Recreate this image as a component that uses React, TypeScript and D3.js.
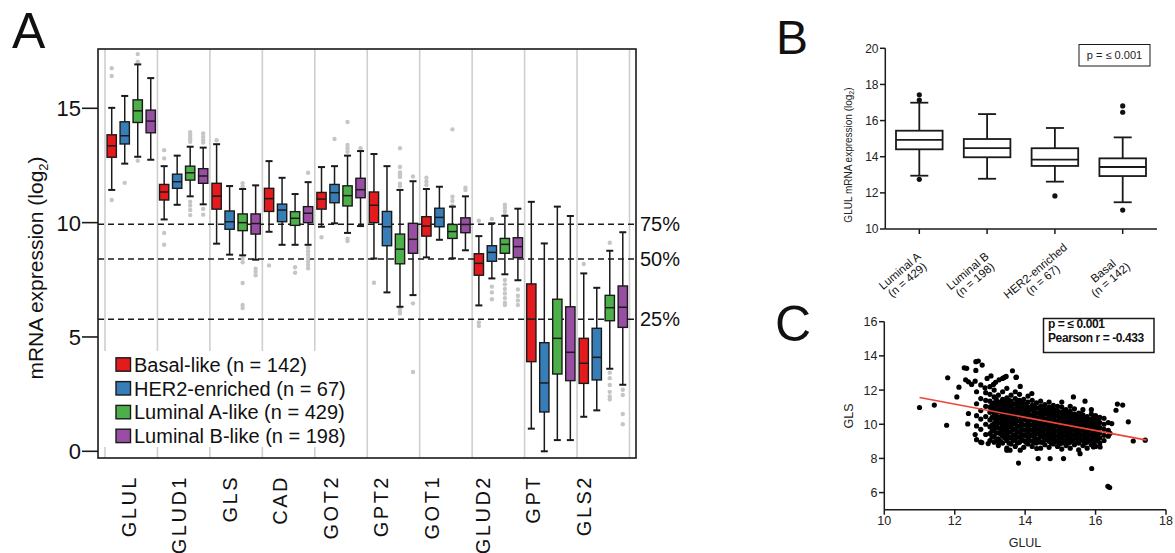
import React from "react";
import * as d3 from "d3";

// ---------- Panel A data ----------
const genes = ["GLUL", "GLUD1", "GLS", "CAD", "GOT2", "GPT2", "GOT1", "GLUD2", "GPT", "GLS2"];
const subtypes = ["Basal-like", "HER2-enriched", "Luminal A-like", "Luminal B-like"];
const subtypeN = [142, 67, 429, 198];
const subtypeColors = ["#E41A1C", "#377EB8", "#4DAF4A", "#984EA3"];

// order per gene: Basal, HER2, LumA, LumB
const whiskHi = [
  [15.02, 15.54, 16.92, 16.32],
  [12.47, 12.93, 13.32, 13.28],
  [13.43, 11.6, 11.47, 11.63],
  [12.69, 11.96, 11.25, 11.77],
  [12.43, 12.47, 12.93, 13.13],
  [13.0, 12.47, 11.43, 11.81],
  [11.47, 11.57, 10.7, 11.15],
  [9.41, 9.97, 10.3, 10.61],
  [10.91, 9.09, 10.7, 10.29],
  [7.78, 7.15, 8.77, 9.58],
];
const upperQ = [
  [13.84, 14.41, 15.37, 14.92],
  [11.67, 12.12, 12.47, 12.36],
  [11.72, 10.51, 10.38, 10.38],
  [11.5, 10.81, 10.48, 10.7],
  [11.32, 11.67, 11.61, 11.94],
  [11.34, 10.49, 9.5, 9.97],
  [10.26, 10.63, 9.92, 10.21],
  [8.64, 8.99, 9.31, 9.34],
  [7.32, 4.75, 6.65, 6.32],
  [4.94, 5.38, 6.82, 7.23],
];
const medians = [
  [13.36, 13.8, 14.89, 14.44],
  [11.34, 11.79, 12.18, 12.04],
  [11.16, 10.04, 10.0, 9.96],
  [11.05, 10.55, 10.19, 10.41],
  [11.03, 11.31, 11.18, 11.44],
  [10.76, 9.82, 8.84, 9.27],
  [9.85, 10.23, 9.61, 9.92],
  [8.22, 8.7, 9.05, 8.95],
  [5.78, 2.99, 4.94, 4.33],
  [3.85, 4.11, 6.28, 6.3],
];
const lowerQ = [
  [12.86, 13.44, 14.38, 13.93],
  [10.99, 11.5, 11.86, 11.72],
  [10.59, 9.71, 9.65, 9.5],
  [10.49, 10.04, 9.88, 10.0],
  [10.59, 10.87, 10.73, 11.09],
  [10.0, 8.99, 8.2, 8.66],
  [9.41, 9.82, 9.31, 9.56],
  [7.7, 8.31, 8.66, 8.47],
  [3.92, 1.72, 3.38, 3.09],
  [2.97, 3.12, 5.71, 5.42],
];
const whiskLo = [
  [11.43, 12.58, 12.88, 12.75],
  [10.14, 10.78, 11.15, 10.8],
  [9.08, 8.6, 8.57, 8.38],
  [9.6, 9.03, 9.03, 9.03],
  [9.82, 9.97, 9.55, 9.85],
  [8.43, 6.95, 6.32, 6.83],
  [8.48, 9.25, 8.44, 8.79],
  [6.38, 7.56, 7.74, 7.48],
  [0.99, 0.0, 0.49, 0.49],
  [1.51, 1.79, 3.61, 2.91],
];
const outliersA = [
  [[16.75, 16.41, 10.99], [11.74], [17.37, 17.04, 12.71], []],
  [[13.17, 12.81, 9.55, 9.03], [], [13.96, 13.85, 13.75, 13.65, 13.54, 10.91, 10.75, 10.55, 10.33], [13.9, 13.75, 13.6, 13.5, 10.6, 10.35]],
  [[13.6], [], [11.72, 11.58, 8.45, 8.27, 7.36, 6.4, 6.27], [7.98, 7.85, 7.7]],
  [[8.13], [], [8.05, 7.81], [12.18, 8.9, 8.75, 8.6, 8.45, 8.3, 8.15, 8.0]],
  [[9.36], [13.66], [14.4, 13.4, 13.25, 13.1, 9.3, 9.2], [13.25]],
  [[7.37], [], [13.25, 12.43, 12.2, 12.1, 12.0, 11.7, 11.6, 6.24, 6.1, 6.03], [12.02, 6.47, 3.47]],
  [[11.96, 11.8, 11.65], [], [14.08, 11.13, 10.95, 10.74], [11.53, 11.43]],
  [[10.08, 5.64, 5.48], [10.16, 7.2, 6.95, 6.65], [10.78, 10.65, 10.5, 10.33, 7.49, 7.3, 7.1, 6.9, 6.7, 6.5, 6.4], [7.08, 6.8, 6.6, 6.4]],
  [[], [], [], []],
  [[8.19], [], [9.12, 3.44, 3.2, 2.9, 2.6, 2.4, 2.27], [2.69, 2.46, 1.63, 1.18]],
];
const aTicks = [0, 5, 10, 15];
const refLabels = ["75%", "50%", "25%"];
const refValues = [9.93, 8.41, 5.78];

// ---------- Panel B data ----------
const bCats = ["Luminal A", "Luminal B", "HER2-enriched", "Basal"];
const bN = [429, 198, 67, 142];
const bHi = [16.99, 16.36, 15.59, 15.07];
const bQ3 = [15.44, 14.98, 14.47, 13.91];
const bMed = [14.93, 14.48, 13.84, 13.43];
const bQ1 = [14.41, 13.97, 13.49, 12.93];
const bLo = [12.95, 12.78, 12.62, 11.48];
const bOut = [[17.43, 17.14, 12.75], [], [11.83], [16.81, 16.46, 11.05]];
const bTicks = [10, 12, 14, 16, 18, 20];

// ---------- Panel C data ----------
const blobCols: [number, number[]][] = [
  [12.62, [9.1, 9.9, 10.5, 11.2, 11.9]],
  [12.74, [8.95, 9.7, 10.3, 10.8, 11.5, 12.3]],
  [12.88, [9.4, 10.0, 10.45, 11.05, 11.4, 11.85]],
  [13.0, [9.05, 9.45, 9.85, 10.25, 10.7, 11.0, 11.35, 11.75, 12.2]],
  [13.12, [8.95, 9.3, 9.7, 10.05, 10.35, 10.65, 10.95, 11.25, 11.6, 12.0]],
  [13.24, [8.75, 9.15, 9.5, 9.8, 10.1, 10.4, 10.75, 11.05, 11.3, 11.7]],
  [13.36, [8.9, 9.3, 9.6, 9.95, 10.25, 10.55, 10.85, 11.15, 11.45, 11.9]],
  [13.48, [8.6, 9.05, 9.4, 9.7, 10.0, 10.3, 10.6, 10.95, 11.2, 11.55, 12.1]],
  [13.6, [8.85, 9.2, 9.55, 9.85, 10.15, 10.45, 10.75, 11.05, 11.35, 11.7]],
  [13.72, [8.7, 9.1, 9.4, 9.7, 10.05, 10.35, 10.65, 10.9, 11.2, 11.5, 11.9]],
  [13.84, [8.95, 9.25, 9.55, 9.9, 10.2, 10.5, 10.8, 11.1, 11.4, 11.75]],
  [13.96, [8.65, 9.05, 9.35, 9.65, 9.95, 10.3, 10.6, 10.85, 11.15, 11.45]],
  [14.08, [8.85, 9.2, 9.5, 9.8, 10.1, 10.4, 10.7, 11.0, 11.3, 11.65]],
  [14.2, [8.7, 9.0, 9.35, 9.65, 9.95, 10.25, 10.55, 10.85, 11.1, 11.4]],
  [14.32, [8.9, 9.15, 9.45, 9.75, 10.05, 10.35, 10.65, 10.95, 11.25]],
  [14.44, [8.6, 8.95, 9.3, 9.6, 9.9, 10.2, 10.5, 10.75, 11.05, 11.35]],
  [14.56, [8.8, 9.1, 9.4, 9.7, 10.0, 10.3, 10.6, 10.9, 11.15]],
  [14.68, [8.65, 9.0, 9.25, 9.55, 9.85, 10.15, 10.45, 10.7, 11.0, 11.3]],
  [14.8, [8.85, 9.15, 9.45, 9.75, 10.05, 10.35, 10.6, 10.9, 11.1]],
  [14.92, [8.7, 9.0, 9.3, 9.6, 9.9, 10.2, 10.5, 10.8, 11.05]],
  [15.04, [8.55, 8.9, 9.2, 9.5, 9.8, 10.1, 10.4, 10.7, 11.0, 11.3]],
  [15.16, [8.75, 9.05, 9.35, 9.65, 9.95, 10.25, 10.55, 10.85]],
  [15.28, [8.6, 8.95, 9.25, 9.55, 9.85, 10.15, 10.45, 10.75, 11.05]],
  [15.4, [8.8, 9.1, 9.4, 9.7, 10.0, 10.3, 10.6, 10.9]],
  [15.52, [8.5, 8.9, 9.2, 9.5, 9.8, 10.1, 10.4, 10.65]],
  [15.64, [8.75, 9.05, 9.35, 9.65, 9.95, 10.25, 10.55, 10.85]],
  [15.76, [8.6, 8.95, 9.25, 9.55, 9.85, 10.15, 10.45]],
  [15.88, [8.8, 9.1, 9.4, 9.7, 10.0, 10.3, 10.6, 10.85]],
  [16.0, [8.7, 9.0, 9.3, 9.6, 9.9, 10.2, 10.5]],
  [16.12, [8.9, 9.2, 9.5, 9.8, 10.1, 10.4]],
  [16.24, [9.05, 9.35, 9.7, 10.0, 10.35]],
  [16.36, [9.3, 9.65, 10.1]],
];
// denser core, read between the columns above
const blobCore: [number, number[]][] = [
  [13.06, [9.25, 9.6, 9.95, 10.4, 10.8, 11.15]],
  [13.18, [9.1, 9.5, 9.85, 10.2, 10.5, 10.8, 11.1, 11.45]],
  [13.3, [9.0, 9.45, 9.75, 10.1, 10.4, 10.7, 11.0, 11.3]],
  [13.42, [9.2, 9.55, 9.85, 10.15, 10.45, 10.8, 11.05, 11.35]],
  [13.54, [8.9, 9.25, 9.55, 9.9, 10.2, 10.5, 10.8, 11.1, 11.4]],
  [13.66, [9.05, 9.35, 9.7, 10.0, 10.3, 10.6, 10.9, 11.2]],
  [13.78, [8.9, 9.25, 9.55, 9.85, 10.2, 10.5, 10.8, 11.05, 11.35]],
  [13.9, [9.1, 9.4, 9.7, 10.05, 10.35, 10.65, 10.95, 11.25]],
  [14.02, [8.95, 9.35, 9.65, 9.95, 10.25, 10.55, 10.85, 11.15]],
  [14.14, [9.05, 9.35, 9.65, 9.95, 10.25, 10.55, 10.9]],
  [14.26, [8.95, 9.25, 9.55, 9.85, 10.15, 10.45, 10.75, 11.05]],
  [14.38, [9.1, 9.45, 9.75, 10.05, 10.35, 10.65, 10.95]],
  [14.5, [8.95, 9.25, 9.55, 9.85, 10.15, 10.45, 10.75, 11.0]],
  [14.62, [9.1, 9.4, 9.7, 10.0, 10.3, 10.6, 10.85]],
  [14.74, [8.9, 9.2, 9.5, 9.8, 10.1, 10.4, 10.7, 10.95]],
  [14.86, [9.0, 9.3, 9.6, 9.9, 10.2, 10.5, 10.8]],
  [14.98, [8.85, 9.15, 9.45, 9.75, 10.05, 10.35, 10.65]],
  [15.1, [9.0, 9.3, 9.6, 9.9, 10.2, 10.5, 10.75]],
  [15.22, [8.9, 9.2, 9.5, 9.8, 10.1, 10.4, 10.65]],
  [15.34, [9.05, 9.35, 9.65, 9.95, 10.25, 10.55]],
  [15.46, [8.95, 9.25, 9.55, 9.85, 10.15, 10.45]],
  [15.58, [9.1, 9.4, 9.7, 10.0, 10.3, 10.6]],
  [15.7, [8.9, 9.2, 9.5, 9.8, 10.1, 10.35]],
  [15.82, [9.05, 9.35, 9.65, 9.95, 10.25]],
  [15.94, [8.95, 9.25, 9.55, 9.85, 10.15, 10.4]],
  [16.06, [9.1, 9.45, 9.75, 10.05, 10.3]],
];
const cExtra: [number, number][] = [
  [11.0, 10.98], [11.42, 11.12], [11.8, 12.72], [11.77, 9.94], [12.06, 11.6], [12.12, 12.17],
  [12.27, 13.3], [12.34, 13.27], [12.6, 13.66], [12.67, 13.7], [12.78, 13.46], [12.6, 13.15],
  [12.31, 12.6], [12.39, 12.48], [12.48, 12.33], [12.58, 12.52], [12.86, 12.13], [12.92, 12.68],
  [13.03, 12.83], [13.16, 12.45], [13.36, 12.68], [13.46, 12.8], [13.64, 13.13], [13.75, 12.76],
  [13.86, 12.21], [13.1, 12.33], [13.26, 12.6], [13.41, 12.74], [13.74, 12.74], [12.39, 10.63],
  [12.37, 10.02], [12.58, 9.4], [12.77, 8.93], [12.95, 8.87], [13.24, 8.97], [13.48, 8.48],
  [13.57, 8.48], [13.86, 8.48], [13.81, 7.73], [14.33, 8.58], [14.37, 7.99], [14.71, 7.99],
  [15.09, 7.99], [15.56, 8.28], [15.89, 7.41], [16.35, 6.37], [16.4, 6.3], [14.19, 11.8],
  [15.37, 11.6], [15.7, 11.35], [16.62, 11.18], [16.77, 11.12], [16.58, 10.82], [16.93, 10.14],
  [17.07, 9.02], [17.41, 9.07], [16.41, 9.46], [16.46, 10.04], [16.13, 8.67], [15.94, 8.67],
];
const regX = [11.0, 17.45];
const regY = [11.57, 9.07];
const cXTicks = [10, 12, 14, 16, 18];
const cYTicks = [6, 8, 10, 12, 14, 16];

const FONT = "'Liberation Sans', Arial, Helvetica, sans-serif";
const INK = "#1a1a1a";

function PanelA() {
  const y = d3.scaleLinear().domain([0, 15]).range([451.3, 108.3]);
  const xg = d3.scaleBand<string>().domain(genes).range([105, 629.5]).paddingInner(0).paddingOuter(0);
  const xs = d3.scaleBand<string>().domain(subtypes).range([0, xg.bandwidth()]).paddingInner(0.285).paddingOuter(0.158);
  const xl = d3.scalePoint<string>().domain(genes).range([128.5, 583.5]);
  const left = 98, top = 49, right = 636, bottom = 458;
  const bw = xs.bandwidth();
  const seps = genes.map((g) => xg(g) as number).concat([629.5]);
  return (
    <g>
      <text x={12} y={48} fontSize={50} fill="#111">A</text>
      {seps.map((sx, i) => (
        <line key={i} x1={sx} x2={sx} y1={top} y2={bottom} stroke="#cfcfcf" strokeWidth={1.6} />
      ))}
      {refValues.map((v, i) => (
        <g key={i}>
          <line x1={left} x2={right} y1={y(v)} y2={y(v)} stroke={INK} strokeWidth={1.5} strokeDasharray="6,4" />
          <text x={640} y={y(v)} dy="0.36em" fontSize={20} fill="#111">{refLabels[i]}</text>
        </g>
      ))}
      {genes.map((g, gi) => (
        <g key={g}>
          {subtypes.map((s, si) => {
            const cx = (xg(g) as number) + (xs(s) as number) + bw / 2;
            return (
              <g key={s}>
                {outliersA[gi][si].map((o, oi) => (
                  <circle key={oi} cx={cx} cy={y(o)} r={2.2} fill="#c6c6c6" />
                ))}
                <line x1={cx} x2={cx} y1={y(whiskHi[gi][si])} y2={y(upperQ[gi][si])} stroke={INK} strokeWidth={1.5} />
                <line x1={cx} x2={cx} y1={y(lowerQ[gi][si])} y2={y(whiskLo[gi][si])} stroke={INK} strokeWidth={1.5} />
                <line x1={cx - 3.5} x2={cx + 3.5} y1={y(whiskHi[gi][si])} y2={y(whiskHi[gi][si])} stroke={INK} strokeWidth={2} />
                <line x1={cx - 3.5} x2={cx + 3.5} y1={y(whiskLo[gi][si])} y2={y(whiskLo[gi][si])} stroke={INK} strokeWidth={2} />
                <rect x={cx - bw / 2} y={y(upperQ[gi][si])} width={bw} height={y(lowerQ[gi][si]) - y(upperQ[gi][si])}
                  fill={subtypeColors[si]} stroke={INK} strokeWidth={1.4} />
                <line x1={cx - bw / 2} x2={cx + bw / 2} y1={y(medians[gi][si])} y2={y(medians[gi][si])} stroke={INK} strokeWidth={1.5} />
              </g>
            );
          })}
        </g>
      ))}
      {/* legend */}
      <rect x={101} y={351} width={255} height={96} fill="#fff" />
      {subtypes.map((s, i) => (
        <g key={s} transform={`translate(116, ${364.5 + i * 23.8})`}>
          <rect x={0} y={-6.7} width={14.5} height={13.4} fill={subtypeColors[i]} stroke={INK} strokeWidth={1.4} />
          <text x={18} y={0} dy="0.36em" fontSize={20} fill="#111">{`${s} (n = ${subtypeN[i]})`}</text>
        </g>
      ))}
      <rect x={left} y={top} width={right - left} height={bottom - top} fill="none" stroke={INK} strokeWidth={1.6} />
      {aTicks.map((t) => (
        <g key={t}>
          <line x1={82} x2={left} y1={y(t)} y2={y(t)} stroke={INK} strokeWidth={1.6} />
          <text x={81} y={y(t)} dy="0.36em" textAnchor="end" fontSize={22} fill="#111">{t}</text>
        </g>
      ))}
      <text transform="translate(35, 268) rotate(-90)" textAnchor="middle" dy="0.36em" fontSize={21} fill="#111">
        mRNA expression (log<tspan fontSize={13} dy={5}>2</tspan><tspan dy={-5}>)</tspan>
      </text>
      {genes.map((g) => (
        <text key={g} transform={`translate(${xl(g)}, 475) rotate(-90)`} textAnchor="end" dy="0.36em"
          fontSize={20} letterSpacing={2.5} fill="#111">{g}</text>
      ))}
    </g>
  );
}

function PanelB() {
  const y = d3.scaleLinear().domain([10, 20]).range([229, 48.3]);
  const x = d3.scalePoint<string>().domain(bCats).range([919.3, 1122.7]);
  const axX = 885.3;
  const hw = 23.3, cw = 9;
  return (
    <g>
      <text x={776} y={54} fontSize={48} fill="#111">B</text>
      <line x1={axX} x2={axX} y1={y(20)} y2={y(10)} stroke={INK} strokeWidth={1.5} />
      <line x1={axX} x2={1157} y1={y(10)} y2={y(10)} stroke={INK} strokeWidth={1.5} />
      {bTicks.map((t) => (
        <g key={t}>
          <line x1={880} x2={axX} y1={y(t)} y2={y(t)} stroke={INK} strokeWidth={1.5} />
          <text x={878.5} y={y(t)} dy="0.36em" textAnchor="end" fontSize={12} fill="#222">{t}</text>
        </g>
      ))}
      {bCats.map((c, i) => {
        const cx = x(c) as number;
        return (
          <g key={c}>
            <line x1={cx} x2={cx} y1={y(10)} y2={y(10) + 5} stroke={INK} strokeWidth={1.5} />
            <line x1={cx} x2={cx} y1={y(bHi[i])} y2={y(bQ3[i])} stroke={INK} strokeWidth={1.8} />
            <line x1={cx} x2={cx} y1={y(bQ1[i])} y2={y(bLo[i])} stroke={INK} strokeWidth={1.8} />
            <line x1={cx - cw} x2={cx + cw} y1={y(bHi[i])} y2={y(bHi[i])} stroke={INK} strokeWidth={1.8} />
            <line x1={cx - cw} x2={cx + cw} y1={y(bLo[i])} y2={y(bLo[i])} stroke={INK} strokeWidth={1.8} />
            <rect x={cx - hw} y={y(bQ3[i])} width={hw * 2} height={y(bQ1[i]) - y(bQ3[i])} fill="#fff" stroke={INK} strokeWidth={1.8} />
            <line x1={cx - hw} x2={cx + hw} y1={y(bMed[i])} y2={y(bMed[i])} stroke={INK} strokeWidth={1.8} />
            {bOut[i].map((o, oi) => (
              <circle key={oi} cx={cx} cy={y(o)} r={2.6} fill="#111" />
            ))}
            <g transform={`translate(${cx - 17}, 274) rotate(-40)`} fontSize={11.5} fill="#111" textAnchor="middle">
              <text x={0} y={0}>{c}</text>
              <text x={0} y={11.5}>{`(n = ${bN[i]})`}</text>
            </g>
          </g>
        );
      })}
      <rect x={1079} y={44.5} width={71} height={21.5} fill="#fff" stroke={INK} strokeWidth={1} />
      <text x={1114.5} y={59} textAnchor="middle" fontSize={11} fill="#222">p = ≤ 0.001</text>
      <text transform="translate(848, 155) rotate(-90)" textAnchor="middle" dy="0.36em" fontSize={10} fill="#222">
        GLUL mRNA expression (log<tspan fontSize={7} dy={2}>2</tspan><tspan dy={-2}>)</tspan>
      </text>
    </g>
  );
}

function PanelC() {
  const x = d3.scaleLinear().domain([10, 18]).range([884.3, 1166]);
  const y = d3.scaleLinear().domain([5, 16]).range([509.7, 321.7]);
  const pts: [number, number][] = [];
  blobCols.forEach(([gx, ys]) => ys.forEach((v) => pts.push([gx, v])));
  blobCore.forEach(([gx, ys]) => ys.forEach((v) => pts.push([gx, v])));
  cExtra.forEach((p) => pts.push(p));
  const line = d3.line<number>().x((d) => x(regX[d])).y((d) => y(regY[d]));
  return (
    <g>
      <text x={775} y={341} fontSize={50} fill="#111">C</text>
      <line x1={x(10)} x2={x(10)} y1={y(16)} y2={y(5)} stroke={INK} strokeWidth={1.5} />
      <line x1={x(10)} x2={x(18)} y1={y(5)} y2={y(5)} stroke={INK} strokeWidth={1.5} />
      {cYTicks.map((t) => (
        <g key={t}>
          <line x1={879} x2={x(10)} y1={y(t)} y2={y(t)} stroke={INK} strokeWidth={1.5} />
          <text x={877.5} y={y(t)} dy="0.36em" textAnchor="end" fontSize={12.5} fill="#222">{t}</text>
        </g>
      ))}
      {cXTicks.map((t) => (
        <g key={t}>
          <line x1={x(t)} x2={x(t)} y1={y(5)} y2={y(5) + 5} stroke={INK} strokeWidth={1.5} />
          <text x={x(t)} y={525} textAnchor="middle" fontSize={12.5} fill="#222">{t}</text>
        </g>
      ))}
      {pts.map((p, i) => (
        <circle key={i} cx={x(p[0])} cy={y(p[1])} r={2.6} fill="#000" />
      ))}
      <path d={line([0, 1]) as string} stroke="#ee4536" strokeWidth={1.6} fill="none" />
      <rect x={1043.5} y={318.5} width={110.5} height={34} fill="#fff" stroke={INK} strokeWidth={1.5} />
      <text x={1048} y={328} fontSize={12} fontWeight="bold" letterSpacing={-0.4} fill="#111">p = ≤ 0.001</text>
      <text x={1048} y={342} fontSize={12} fontWeight="bold" letterSpacing={-0.4} fill="#111">Pearson r = -0.433</text>
      <text x={1025} y={547} textAnchor="middle" fontSize={12.5} fill="#222">GLUL</text>
      <text transform="translate(848, 416) rotate(-90)" textAnchor="middle" dy="0.36em" fontSize={12.5} fill="#222">GLS</text>
    </g>
  );
}

export default function App() {
  return (
    <svg width={1175} height={553} style={{ position: "absolute", left: 0, top: 0, background: "#fff" }} fontFamily={FONT}>
      <rect width={1175} height={553} fill="#fff" />
      <PanelA />
      <PanelB />
      <PanelC />
    </svg>
  );
}
